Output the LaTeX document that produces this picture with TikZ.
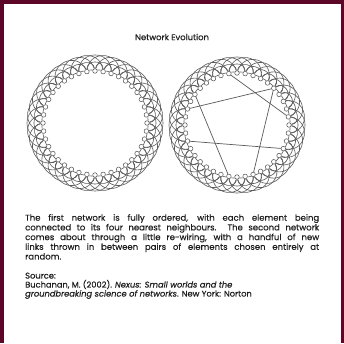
\documentclass[tikz,border=0pt]{standalone}
\usepackage{fontspec}
\setmainfont{Poppins}[FakeBold=0.35]
\usetikzlibrary{calc}
\definecolor{framecol}{RGB}{92,6,40}
\definecolor{ink}{RGB}{30,30,30}
\definecolor{wire}{RGB}{90,90,90}
\pgfdeclarelayer{back}
\pgfdeclarelayer{wires}
\pgfsetlayers{back,wires,main}
\tikzset{
 dot/.style={circle,draw=wire,fill=white,line width=0.55pt,inner sep=0pt,minimum size=4.6pt},
 link/.style={draw=wire,line width=0.6pt},
 chord/.style={draw=wire,line width=0.7pt},
 txt/.style={text=ink,inner sep=0pt},
}
\begin{document}
\begin{tikzpicture}[x=1pt,y=1pt]
\begin{pgfonlayer}{back}
\fill[framecol] (0,0) rectangle (344,343);
\fill[white] (4,0) rectangle (341,339);
\end{pgfonlayer}
\useasboundingbox (0,0) rectangle (344,343);
\foreach \side/\cx/\cy in {L/95/220, R/237/218} {
  \foreach \i in {0,...,39} {
    \node[dot] (\side\i) at ($(\cx,\cy)+(\i*9:52)$) {};
  }
  \begin{pgfonlayer}{wires}
  \foreach \i in {0,...,39} {
    \pgfmathtruncatemacro\ja{mod(\i+1,40)}
    \pgfmathtruncatemacro\jb{mod(\i+2,40)}
    \pgfmathtruncatemacro\jd{mod(\i+4,40)}
    \draw[link] (\side\i) to[bend right=30] (\side\ja);
    \draw[link] (\side\i) to[bend right=90,looseness=1.5] (\side\jb);
    \draw[link] (\side\i) to[bend right=90,looseness=1.7] (\side\jd);
  }
  \end{pgfonlayer}
}
\begin{pgfonlayer}{wires}
\draw[chord] (R18) -- (R5);
\draw[chord] (R11) -- (R1);
\draw[chord] (R5) -- (R32);
\draw[chord] (R16) -- (R29);
\draw[chord] (R22) -- (R37);
\end{pgfonlayer}
\node[txt,font=\fontsize{8.4}{9}\selectfont] (title) at (172,306) {Network Evolution};
\node[txt,anchor=north west,text width=294pt,align=justify,font=\fontsize{8.5}{9.7}\selectfont] (para) at (25,129) {The first network is fully ordered, with each element being\linebreak connected to its four nearest neighbours.\ \ The second network\linebreak comes about through a little re-wiring, with a handful of new\linebreak links thrown in between pairs of elements chosen entirely at\linebreak random.};
\node[txt,anchor=north west,align=left,font=\fontsize{8.3}{9}\selectfont] (src) at (25,70.5) {Source:\\Buchanan, M. (2002). \textit{Nexus: Small worlds and the}\\\textit{groundbreaking science of networks}. New York: Norton};
\end{tikzpicture}
\end{document}
